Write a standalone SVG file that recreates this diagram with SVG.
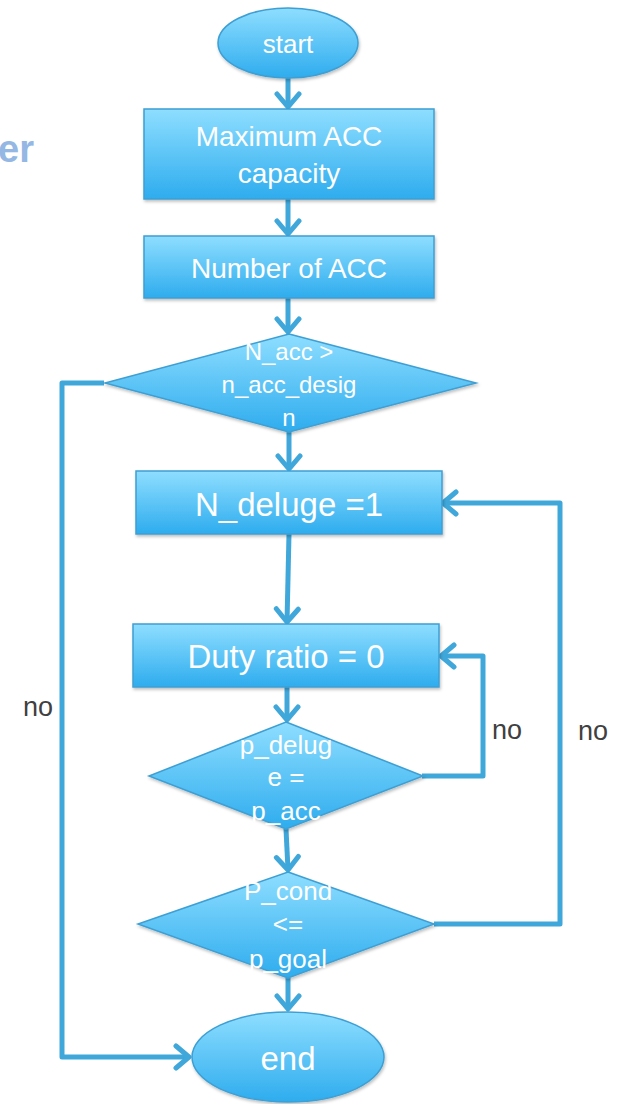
<svg xmlns="http://www.w3.org/2000/svg" width="621" height="1104" viewBox="0 0 621 1104">
<defs>
<linearGradient id="g" x1="0" y1="0" x2="0" y2="1">
<stop offset="0" stop-color="#8EDEFF"/>
<stop offset="1" stop-color="#2EACEE"/>
</linearGradient>
<filter id="sh" x="-10%" y="-10%" width="120%" height="130%">
<feDropShadow dx="1" dy="2" stdDeviation="1.5" flood-color="#000" flood-opacity="0.25"/>
</filter>
<marker id="ah" markerUnits="userSpaceOnUse" markerWidth="26" markerHeight="28" viewBox="0 0 26 28" refX="22" refY="14" orient="auto">
<path d="M9,3 L22,14 L9,25" fill="none" stroke="#3FA7DA" stroke-width="5" stroke-linecap="round" stroke-linejoin="round"/>
</marker>
<style>
.n{fill:url(#g);stroke:#3E9FD3;stroke-width:1.5;filter:url(#sh)}
.t{fill:#fff;font-family:"Liberation Sans",Arial,sans-serif;text-anchor:middle}
.c{fill:none;stroke:#3FA7DA;stroke-width:5;stroke-linejoin:round}
.a{marker-end:url(#ah)}
.l{fill:#404040;font-family:"Liberation Sans",Arial,sans-serif;font-size:27px;text-anchor:middle}
</style>
</defs>
<rect width="621" height="1104" fill="#fff"/>
<text x="34" y="162" font-family="Liberation Sans,Arial,sans-serif" font-weight="bold" font-size="38" fill="#95B7E3" text-anchor="end">er</text>
<g id="connectors">
<path class="c a" d="M288,78 L288,107"/>
<path class="c a" d="M288,199 L288,234"/>
<path class="c a" d="M288,298 L288,332"/>
<path class="c a" d="M289,432 L289,469"/>
<path class="c a" d="M289,534 L287,622"/>
<path class="c a" d="M287,687 L287,720"/>
<path class="c a" d="M286,829 L288,870"/>
<path class="c a" d="M288,978 L288,1009"/>
<path class="c a" d="M104,383 L62,383 L62,1057 L189,1057"/>
<path class="c a" d="M422,776 L483,776 L483,656 L441,656"/>
<path class="c a" d="M434,924 L560,924 L560,503 L443,503"/>
</g>
<g id="start">
<ellipse class="n" cx="288" cy="43" rx="70" ry="35"/>
<text class="t" x="288" y="53" font-size="26">start</text>
</g>
<g id="maxcap">
<rect class="n" x="144" y="109" width="290" height="90"/>
<text class="t" x="289" y="146" font-size="28">Maximum ACC</text>
<text class="t" x="289" y="183" font-size="28">capacity</text>
</g>
<g id="numacc">
<rect class="n" x="144" y="236" width="290" height="62"/>
<text class="t" x="289" y="278" font-size="28">Number of ACC</text>
</g>
<g id="d1">
<polygon class="n" points="289,334 476,383 289,432 105,383"/>
<text class="t" x="289" y="360" font-size="24">N_acc &gt;</text>
<text class="t" x="289" y="393" font-size="24">n_acc_desig</text>
<text class="t" x="289" y="426" font-size="24">n</text>
</g>
<g id="deluge">
<rect class="n" x="136" y="471" width="306" height="63"/>
<text class="t" x="289" y="516" font-size="33">N_deluge =1</text>
</g>
<g id="duty">
<rect class="n" x="133" y="624" width="306" height="63"/>
<text class="t" x="286" y="668" font-size="33">Duty ratio = 0</text>
</g>
<g id="d2">
<polygon class="n" points="286,722 423,776 286,829 149,776"/>
<text class="t" x="286" y="754" font-size="26">p_delug</text>
<text class="t" x="286" y="786" font-size="26">e =</text>
<text class="t" x="286" y="820" font-size="26">p_acc</text>
</g>
<g id="d3">
<polygon class="n" points="288,872 434,924 288,978 138,924"/>
<text class="t" x="288" y="900" font-size="26">P_cond</text>
<text class="t" x="288" y="933" font-size="26">&lt;=</text>
<text class="t" x="288" y="968" font-size="26">p_goal</text>
</g>
<g id="end">
<ellipse class="n" cx="288" cy="1057" rx="96" ry="45"/>
<text class="t" x="288" y="1070" font-size="33">end</text>
</g>
<g id="labels">
<text class="l" x="38" y="716">no</text>
<text class="l" x="507" y="739">no</text>
<text class="l" x="593" y="740">no</text>
</g>
</svg>
